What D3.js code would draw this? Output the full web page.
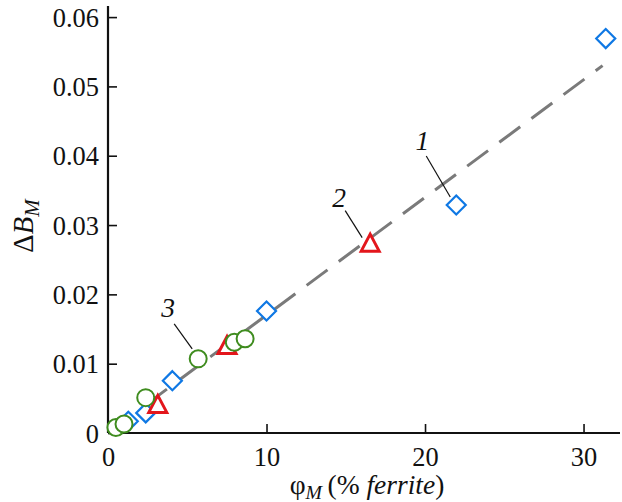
<!DOCTYPE html>
<html>
<head>
<meta charset="utf-8">
<script src="https://cdn.jsdelivr.net/npm/d3@7"></script>
<style>
  html, body { margin: 0; padding: 0; background: #fff; }
  svg { display: block; }
</style>
</head>
<body>
<svg id="chart" width="622" height="502"></svg>
<script>
// ---- Data ----
const xTicks = [0, 10, 20, 30];
const yTicks = [0, 0.01, 0.02, 0.03, 0.04, 0.05, 0.06];
const yTickLabels = ["0", "0.01", "0.02", "0.03", "0.04", "0.05", "0.06"];

// Series 1: diamonds (blue)
const s1X = [1.28, 2.38, 4.06, 10.0, 21.97, 31.4];
const s1Y = [0.0017, 0.0029, 0.00755, 0.0176, 0.0329, 0.0569];
// Series 2: triangles (red)
const s2X = [3.14, 7.51, 16.54];
const s2Y = [0.0042, 0.0127, 0.02746];
// Series 3: circles (green)
const s3X = [0.5, 1.01, 2.38, 5.69, 7.97, 8.65];
const s3Y = [0.0008, 0.0013, 0.0051, 0.0107, 0.0131, 0.0136];
// Fitted dashed line
const fitX = [2.4, 31.2];
const fitY = [0.0041, 0.0530];

// Annotation labels: text and the point they point at
const annLabels = ["1", "2", "3"];
const annX = [21.97, 16.54, 5.69];
const annY = [0.0329, 0.02746, 0.0107];

// ---- Font pick (first installed Times-like serif) ----
function hasFont(f) {
  const c = document.createElement("canvas").getContext("2d");
  const s = "0.06 ferrite ΔB φ";
  c.font = "40px monospace";
  const a = c.measureText(s).width;
  c.font = `40px "${f}", monospace`;
  return c.measureText(s).width !== a;
}
const serifCandidates = ["Liberation Serif", "Tinos", "Times New Roman", "Nimbus Roman", "Times", "DejaVu Serif"];
const FONT = (serifCandidates.find(hasFont) || "serif");
const FF = `"${FONT}", serif`;

const svg = d3.select("#chart").style("font-family", FF);

// scale font sizes so that "0.06" is as wide as in the reference (~47px)
const probe = svg.append("text").attr("font-size", 24).attr("font-family", FF).text("0.06");
const K = Math.min(1.1, 47 / probe.node().getComputedTextLength());
probe.remove();
const fs = v => v * K;

// ---- Layout ----
const x = d3.scaleLinear().domain([0, 32.3]).range([108, 620]);
const y = d3.scaleLinear().domain([0, 0.0616]).range([433, 6]);

const colBlue = "#0f78e4", colRed = "#e3161c", colGreen = "#3f8c1f";

// Axes
const xAxis = d3.axisBottom(x).tickValues(xTicks).tickSizeInner(-9).tickSizeOuter(0).tickPadding(14).tickFormat(d3.format("d"));
const yAxis = d3.axisLeft(y).tickValues(yTicks).tickSizeInner(-9).tickSizeOuter(0).tickPadding(9)
  .tickFormat((d, i) => yTickLabels[i]);

const gx = svg.append("g").attr("transform", `translate(0,${y(0)})`).call(xAxis);
const gy = svg.append("g").attr("transform", `translate(${x(0)},0)`).call(yAxis);
[gx, gy].forEach(g => {
  g.attr("font-family", FF);
  g.select(".domain").attr("stroke", "#111").attr("stroke-width", 2.2);
  g.selectAll(".tick line").attr("stroke", "#111").attr("stroke-width", 1.6);
  g.selectAll(".tick text").attr("fill", "#111").attr("font-size", fs(24)).attr("font-family", FF);
});
gx.selectAll(".tick text").attr("dy", "0.71em");
gy.selectAll(".tick text").attr("dy", "0.35em");
gx.select(".domain").attr("d", `M${x(0)},0H${x.range()[1]}`);
gy.select(".domain").attr("d", `M0,${y(0)}V${y.range()[1]}`);

// Fitted dashed line
const line = d3.line().x(d => x(d[0])).y(d => y(d[1]));
svg.append("path")
  .datum(fitX.map((v, i) => [v, fitY[i]]))
  .attr("d", line)
  .attr("fill", "none")
  .attr("stroke", "#7a7a7a")
  .attr("stroke-width", 3)
  .attr("stroke-dasharray", "26,14");

// Diamonds
const dia = 9.5;
svg.append("g").selectAll("path")
  .data(s1X.map((v, i) => [v, s1Y[i]]))
  .join("path")
  .attr("transform", d => `translate(${x(d[0])},${y(d[1])})`)
  .attr("d", `M0,${-dia}L${dia},0L0,${dia}L${-dia},0Z`)
  .attr("fill", "#fff").attr("stroke", colBlue).attr("stroke-width", 2.2);

// Triangles
svg.append("g").selectAll("path")
  .data(s2X.map((v, i) => [v, s2Y[i]]))
  .join("path")
  .attr("transform", d => `translate(${x(d[0])},${y(d[1])})`)
  .attr("d", "M0,-8.5L9,8.5L-9,8.5Z")
  .attr("fill", "#fff").attr("stroke", colRed).attr("stroke-width", 3);

// Circles
svg.append("g").selectAll("circle")
  .data(s3X.map((v, i) => [v, s3Y[i]]))
  .join("circle")
  .attr("cx", d => x(d[0])).attr("cy", d => y(d[1]))
  .attr("r", 8.5)
  .attr("fill", "#fff").attr("stroke", colGreen).attr("stroke-width", 2);

// Annotations (leader lines + italic numbers)
const annOff = [
  { l1: [-30, -49], l2: [-6, -8], t: [-34, -55] },
  { l1: [-25, -32], l2: [-8, -5], t: [-31, -36] },
  { l1: [-24, -35], l2: [-6, -10], t: [-30, -42] }
];
annLabels.forEach((lab, i) => {
  const px = x(annX[i]), py = y(annY[i]), o = annOff[i];
  svg.append("line")
    .attr("x1", px + o.l1[0]).attr("y1", py + o.l1[1])
    .attr("x2", px + o.l2[0]).attr("y2", py + o.l2[1])
    .attr("stroke", "#111").attr("stroke-width", 1.2);
  svg.append("text")
    .attr("x", px + o.t[0]).attr("y", py + o.t[1])
    .attr("text-anchor", "middle")
    .attr("font-size", fs(25)).attr("font-style", "italic").attr("fill", "#111")
    .text(lab);
});

// X axis title: φ_M (% ferrite)
const xt = svg.append("text")
  .attr("x", 367).attr("y", 494)
  .attr("text-anchor", "middle")
  .attr("font-size", fs(25)).attr("fill", "#111");
xt.append("tspan").text("φ");
xt.append("tspan").attr("font-style", "italic").attr("font-size", fs(18)).attr("dy", 5).text("M");
xt.append("tspan").attr("dy", -5).text("\u2009(% ");
xt.append("tspan").attr("font-style", "italic").text("ferrite");
xt.append("tspan").text(")");

// Y axis title: ΔB_M
const yt = svg.append("text")
  .attr("transform", "translate(33,226) rotate(-90)")
  .attr("text-anchor", "middle")
  .attr("font-size", fs(26)).attr("fill", "#111");
yt.append("tspan").text("Δ");
yt.append("tspan").attr("font-style", "italic").text("B");
yt.append("tspan").attr("font-style", "italic").attr("font-size", fs(19)).attr("dy", 6).text("M");
</script>
</body>
</html>
